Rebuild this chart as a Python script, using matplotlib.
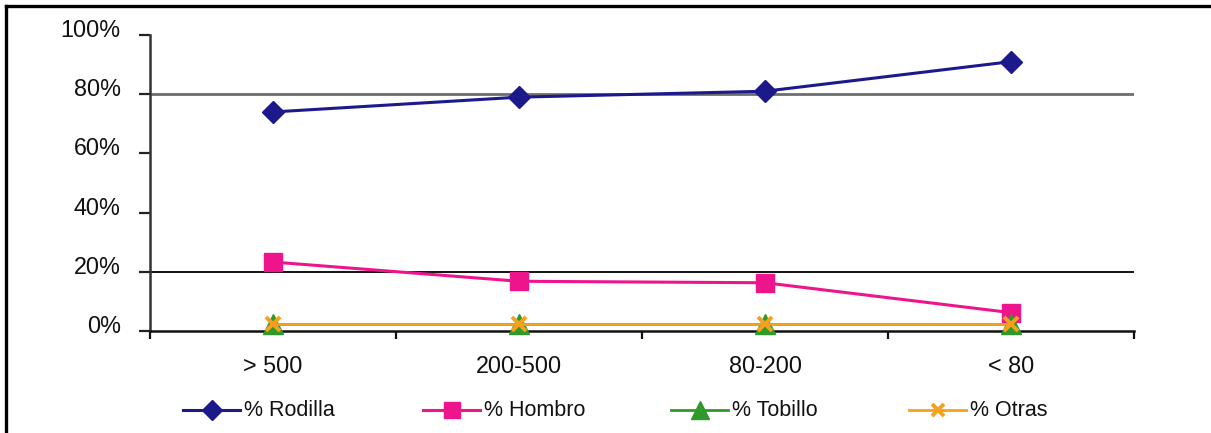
import matplotlib

matplotlib.use("Agg")
import matplotlib.pyplot as plt
from matplotlib.lines import Line2D
from matplotlib.transforms import ScaledTranslation

plt.rcParams["font.family"] = ["Liberation Sans", "DejaVu Sans"]

# categories (hospital size) and share of injuries per body part, in %
categories = ["> 500", "200-500", "80-200", "< 80"]
rodilla = [74, 79, 81, 91]
hombro = [23.3, 16.8, 16.3, 6.2]
tobillo = [2.5, 2.5, 2.5, 2.5]
otras = [2.5, 2.5, 2.5, 2.5]
y_ticks = [0, 20, 40, 60, 80, 100]
y_labels = ["0%", "20%", "40%", "60%", "80%", "100%"]

series = [
    ("% Rodilla", rodilla, dict(color="#1c1a8a", marker="D", markersize=11, lw=2.2)),
    ("% Hombro", hombro, dict(color="#ee158c", marker="s", markersize=12.5, lw=2.2)),
    ("% Tobillo", tobillo, dict(color="#2f9a2a", marker="^", markersize=14, lw=2.0)),
    ("% Otras", otras, dict(color="#f6a11e", marker="x", markersize=10, lw=2.0, mew=2.8)),
]

W, H = 1211, 433
fig = plt.figure(figsize=(W / 100, H / 100), dpi=100)
ax = fig.add_axes([150 / W, 1 - 331 / H, (1134 - 150) / W, (331 - 35) / H])

x = list(range(len(categories)))
for i, (name, vals, kw) in enumerate(series):
    ax.plot(x, vals, clip_on=False, zorder=3 + i, **kw)

ax.axhline(80, color="#6e6e6e", lw=2.0, zorder=1)
ax.axhline(20, color="#111111", lw=1.4, zorder=1)

ax.set_xlim(-0.5, len(categories) - 0.5)
ax.set_ylim(0, 100)

# boundaries between categories carry the tick marks, centers carry labels
ax.set_xticks([i - 0.5 for i in range(len(categories) + 1)])
ax.set_xticklabels([])
ax.set_xticks(x, minor=True)
ax.set_xticklabels(categories, minor=True, fontsize=16.8, color="#111111")
ax.tick_params(axis="x", which="major", direction="out", length=6, width=1.6, color="#111111")
ax.tick_params(axis="x", which="minor", length=0, pad=17)

ax.set_yticks(y_ticks)
ax.set_yticklabels(y_labels, fontsize=16.8, color="#111111")
ax.tick_params(axis="y", direction="out", length=8, width=1.6, color="#222222", pad=13)
shift = ScaledTranslation(0, 0.07, fig.dpi_scale_trans)
for lab in ax.get_yticklabels():
    lab.set_transform(lab.get_transform() + shift)

for side in ("top", "right"):
    ax.spines[side].set_visible(False)
ax.spines["left"].set_color("#333333")
ax.spines["left"].set_linewidth(1.8)
ax.spines["bottom"].set_color("#111111")
ax.spines["bottom"].set_linewidth(1.8)

# legend row drawn by hand along the bottom
legend_y = 1 - 410 / H
legend_starts = [183, 423, 671, 909]
handle_len = 57
for (name, vals, kw), x0 in zip(series, legend_starts):
    line_kw = {k: v for k, v in kw.items() if k not in ("marker", "markersize", "mew")}
    fig.add_artist(Line2D([x0 / W, (x0 + handle_len) / W], [legend_y, legend_y], **line_kw))
    fig.add_artist(Line2D([(x0 + handle_len / 2) / W], [legend_y], color=kw["color"],
                          marker=kw["marker"], markersize=kw["markersize"] * 0.9,
                          mew=kw.get("mew", 1.0), lw=0))
    fig.text((x0 + handle_len + 4) / W, legend_y, name, fontsize=15.5, color="#111111",
             va="center", ha="left")

# outer frame: left and top edges
fig.add_artist(Line2D([6 / W, 6 / W], [0, 1 - 5.5 / H], color="black", lw=2.4))
fig.add_artist(Line2D([6 / W, 1], [1 - 5.5 / H, 1 - 5.5 / H], color="black", lw=2.4))

fig.savefig("out.png", dpi=100, facecolor="white")
